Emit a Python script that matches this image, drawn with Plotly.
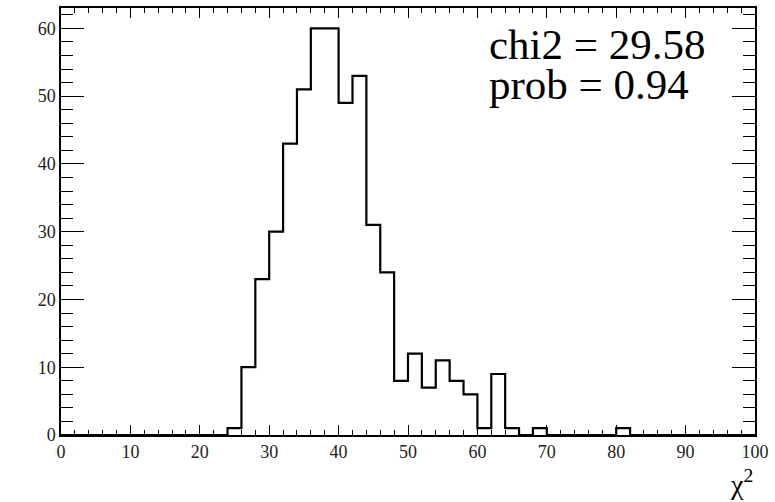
import plotly.graph_objects as go

# Histogram data: 50 bins of width 2 over [0, 100]
bin_low = 0
bin_width = 2
counts = [0, 0, 0, 0, 0, 0, 0, 0, 0, 0,
          0, 0, 1, 10, 23, 30, 43, 51, 60, 60,
          49, 53, 31, 24, 8, 12, 7, 11, 8, 6,
          1, 9, 1, 0, 1, 0, 0, 0, 0, 0,
          1, 0, 0, 0, 0, 0, 0, 0, 0, 0]
x_ticks = [0, 10, 20, 30, 40, 50, 60, 70, 80, 90, 100]
y_ticks = [0, 10, 20, 30, 40, 50, 60]
stat_lines = ["chi2 = 29.58", "prob = 0.94"]
x_title = "χ<sup>2</sup>"

edges = [bin_low + i * bin_width for i in range(len(counts) + 1)]
ys = counts + [counts[-1]]

serif = "Liberation Serif"

fig = go.Figure()
fig.add_trace(go.Scatter(
    x=edges, y=ys, mode="lines", line_shape="hv",
    line=dict(color="black", width=2.2), showlegend=False, hoverinfo="skip"))

axis_common = dict(
    showgrid=False, zeroline=False, showline=True, linecolor="black", linewidth=1.5,
    mirror="ticks", ticks="inside", tickcolor="black", tickwidth=1.2,
    tickfont=dict(family=serif, size=18, color="#222"),
)
fig.update_xaxes(range=[0, 100], tickvals=x_ticks, ticklen=10,
                 minor=dict(dtick=2, ticks="inside", ticklen=5, tickcolor="black", tickwidth=1.2),
                 **axis_common)
fig.update_yaxes(range=[0, 63], tickvals=y_ticks, ticklen=23,
                 minor=dict(dtick=2, ticks="inside", ticklen=12, tickcolor="black", tickwidth=1.2),
                 **axis_common)

fig.add_annotation(xref="paper", yref="paper", x=(488 - 61) / 696, y=(435 - 17) / 429,
                   xanchor="left", yanchor="top", showarrow=False,
                   text=stat_lines[0], font=dict(family=serif, size=43, color="black"))
fig.add_annotation(xref="paper", yref="paper", x=(488 - 61) / 696, y=(435 - 57) / 429,
                   xanchor="left", yanchor="top", showarrow=False,
                   text=stat_lines[1], font=dict(family=serif, size=43, color="black"))
fig.add_annotation(xref="paper", yref="paper", x=1.0, y=-(502 - 435) / 429,
                   xanchor="right", yanchor="bottom", showarrow=False,
                   text=x_title, font=dict(family=serif, size=28, color="black"))

fig.update_layout(
    width=775, height=502,
    margin=dict(l=61, r=18, t=6, b=67),
    paper_bgcolor="white", plot_bgcolor="white",
)
fig.write_html("out.html")
